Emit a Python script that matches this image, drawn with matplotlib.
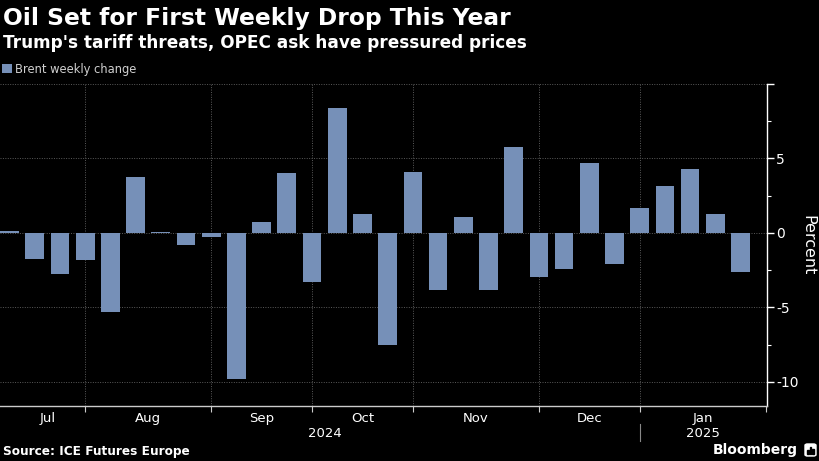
import numpy as np
import matplotlib.pyplot as plt
from matplotlib.patches import FancyBboxPatch, Rectangle

plt.rcParams['axes.unicode_minus'] = False

# Brent weekly change, percent (30 weeks, Jul 2024 - Jan 2025)
changes = [0.13, -1.74, -2.77, -1.79, -5.30, 3.72, 0.06, -0.83, -0.27, -9.82,
           0.76, 4.03, -3.33, 8.42, 1.28, -7.56, 4.07, -3.87, 1.05, -3.83,
           5.80, -2.99, -2.46, 4.72, -2.06, 1.70, 3.15, 4.28, 1.28, -2.64]

# month boundaries (week index) and month labels
month_bounds = [3, 8, 12, 16, 21, 25, 30]
month_labels = ['Jul', 'Aug', 'Sep', 'Oct', 'Nov', 'Dec', 'Jan']
month_centers = [1.5, 5.5, 10, 14, 18.5, 23, 27.5]
years = ['2024', '2025']
year_centers = [12.5, 27.5]

bar_color = '#7690b8'
grid_color = '#5a5a5a'

fig = plt.figure(figsize=(8.2, 4.61), dpi=100, facecolor='black')
ax = fig.add_axes([0, 55 / 461, 766.7 / 820, 322 / 461])
ax.set_facecolor('black')

x = np.arange(len(changes))
bars = ax.bar(x, changes, width=0.74, color=bar_color, zorder=3,
              label='Brent weekly change')

ax.set_xlim(-0.38, 30.04)
ax.set_ylim(-11.63, 10)

# grid
for b in month_bounds[:-1]:
    ax.axvline(b, color=grid_color, lw=0.7, ls=(0, (1, 1.5)), zorder=1)
for yv in [-10, -5, 0, 5, 10]:
    ax.axhline(yv, color=grid_color, lw=0.7, ls=(0, (1, 1.5)), zorder=1)

# spines
for s in ['left', 'top']:
    ax.spines[s].set_visible(False)
ax.spines['right'].set_color('white')
ax.spines['right'].set_linewidth(1.0)
ax.spines['bottom'].set_color('#cccccc')
ax.spines['bottom'].set_linewidth(1.0)

# y axis on the right
ax.yaxis.tick_right()
ax.set_yticks([-10, -5, 0, 5, 10])
ax.set_yticklabels(['-10', '-5', '0', '5', ''])
ax.set_yticks([-7.5, -2.5, 2.5, 7.5], minor=True)
ax.tick_params(axis='y', which='major', colors='white', length=5, width=1,
               pad=2, labelsize=10)
ax.tick_params(axis='y', which='minor', colors='white', length=3, width=0.8)
ax.yaxis.set_label_position('right')
ax.set_ylabel('Percent', color='white', fontsize=11.5, rotation=270, labelpad=12)

# x axis: boundary ticks, month labels in between
ax.set_xticks(month_bounds)
ax.set_xticklabels([''] * len(month_bounds))
ax.set_xticks(month_centers, minor=True)
ax.set_xticklabels(month_labels, minor=True)
ax.tick_params(axis='x', which='major', colors='#cccccc', length=4, width=0.8)
ax.tick_params(axis='x', which='minor', colors='white', length=0, pad=4,
               labelsize=9.5)

for yr, xc in zip(years, year_centers):
    ax.text(xc, -0.085, yr, transform=ax.get_xaxis_transform(), color='white',
            fontsize=9.5, ha='center', va='center')
ax.plot([25, 25], [-0.055, -0.11], transform=ax.get_xaxis_transform(),
        color='#888888', lw=0.8, clip_on=False)

# titles
fig.text(0.004, 1 - 18 / 461, 'Oil Set for First Weekly Drop This Year',
         color='white', fontsize=16.8, fontweight='bold', va='center', ha='left')
fig.text(0.004, 1 - 43 / 461,
         "Trump's tariff threats, OPEC ask have pressured prices",
         color='white', fontsize=12.2, fontweight='bold', va='center', ha='left')

fig.legend(handles=[bars], loc='center left',
           bbox_to_anchor=(0.0, 1 - 69 / 461), frameon=False, fontsize=8.3,
           labelcolor='#d0d0d0', handlelength=0.8, handleheight=0.8,
           handletextpad=0.3, borderaxespad=0, borderpad=0.2)

# footer
fig.text(0.004, 1 - 451 / 461, 'Source: ICE Futures Europe', color='white',
         fontsize=8.7, fontweight='bold', va='center', ha='left')
fig.text(798 / 820, 1 - 450 / 461, 'Bloomberg', color='white', fontsize=10,
         fontweight='bold', va='center', ha='right')
fig.patches.append(FancyBboxPatch((805 / 820, 1 - 456 / 461), 11 / 820, 12 / 461,
                                  boxstyle='round,pad=0,rounding_size=0.003',
                                  transform=fig.transFigure, color='white'))
for i, h in enumerate([4, 7, 5]):
    fig.patches.append(Rectangle(((807.5 + i * 2.5) / 820, 1 - 454 / 461),
                                 1.5 / 820, h / 461, transform=fig.transFigure,
                                 color='black'))

fig.savefig('out.png', dpi=100, facecolor='black')
